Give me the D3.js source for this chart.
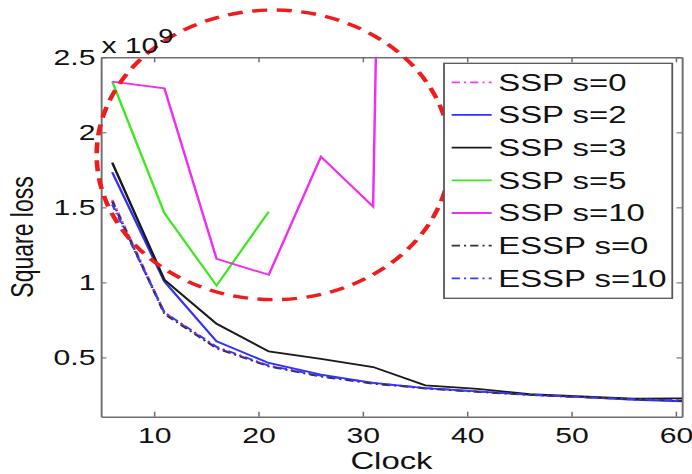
<!DOCTYPE html>
<html>
<head>
<meta charset="utf-8">
<script src="https://cdn.jsdelivr.net/npm/d3@7"></script>
<style>
  body { margin: 0; background: #fff; }
  text { font-family: 'Liberation Sans', Arial, sans-serif; fill: #111; }
</style>
</head>
<body>
<div class="canvas"></div>
<script>
// Loss values are in units of 1e9
const clock = [6, 11, 16, 21, 26, 31, 36, 41, 46, 51, 56, 61]
const sspS0 = [1.55, 0.80, 0.565, 0.445, 0.375, 0.328, 0.295, 0.272, 0.252, 0.236, 0.222, 0.212]
const sspS2 = [1.734, 1.006, 0.607, 0.463, 0.385, 0.33, 0.296, 0.274, 0.25, 0.236, 0.218, 0.207]
const sspS3 = [1.798, 1.017, 0.724, 0.54, 0.49, 0.436, 0.314, 0.29, 0.256, 0.24, 0.225, 0.228]
const sspS5 = [2.338, 1.461, 0.979, 1.472]
const sspS10 = [2.338, 2.293, 1.157, 1.05, 1.838, 1.505, 20.5]
const esspS0 = [1.54, 0.79, 0.56, 0.44, 0.372, 0.325, 0.293, 0.27, 0.25, 0.235, 0.22, 0.21]
const esspS10 = [1.52, 0.80, 0.57, 0.445, 0.378, 0.33, 0.296, 0.273, 0.252, 0.236, 0.222, 0.212]

const seriesNames = ['SSP s=0', 'SSP s=2', 'SSP s=3', 'SSP s=5', 'SSP s=10', 'ESSP s=0', 'ESSP s=10']
const seriesValues = [sspS0, sspS2, sspS3, sspS5, sspS10, esspS0, esspS10]

const xTicks = [10, 20, 30, 40, 50, 60]
const yTicks = [0.5, 1, 1.5, 2, 2.5]

// highlighted region (data units)
const ringCenter = [21.46, 1.85]
const ringRadius = [16.95, 0.965]

const colors = ['#f23cf2', '#3030ff', '#1a1a1a', '#3fe81f', '#f02ef0', '#333333', '#3a3aff']
const dashes = ['6,3,1.5,3', null, null, null, null, '6,3,1.5,3', '6,3,1.5,3']

// The picture is stretched sideways, so draw narrower and let the viewBox stretch it
const stretch = 1.37
const width = 692
const height = 474
const innerW = width / stretch

const svg = d3.select('.canvas')
  .append('svg')
  .attr('width', width)
  .attr('height', height)
  .attr('viewBox', `0 0 ${innerW} ${height}`)
  .attr('preserveAspectRatio', 'none')

svg.append('rect').attr('width', innerW).attr('height', height).attr('fill', '#fff')

const margin = { top: 57.3, right: innerW - 497.8, bottom: height - 416.7, left: 73.7 }
const graphWidth = innerW - margin.left - margin.right
const graphHeight = height - margin.top - margin.bottom

const graph = svg.append('g')
  .attr('transform', `translate(${margin.left}, ${margin.top})`)

// Scales
const x = d3.scaleLinear().domain([4.92, 60.6]).range([0, graphWidth])
const y = d3.scaleLinear().domain([0.105, 2.5]).range([graphHeight, 0])

graph.append('clipPath').attr('id', 'plotClip')
  .append('rect').attr('width', graphWidth).attr('height', graphHeight)

// Axes (box with inward ticks)
const xAxisGroup = graph.append('g').attr('transform', `translate(0, ${graphHeight})`)
  .call(d3.axisBottom(x).tickValues(xTicks).tickSizeInner(-5).tickSizeOuter(0).tickPadding(10.4).tickFormat(d => d))
const yAxisGroup = graph.append('g')
  .call(d3.axisLeft(y).tickValues(yTicks).tickSizeInner(-4).tickSizeOuter(0).tickPadding(4).tickFormat(d => d))
const topAxisGroup = graph.append('g')
  .call(d3.axisTop(x).tickValues(xTicks).tickSizeInner(-5).tickSizeOuter(0).tickFormat(''))
const rightAxisGroup = graph.append('g').attr('transform', `translate(${graphWidth}, 0)`)
  .call(d3.axisRight(y).tickValues(yTicks).tickSizeInner(-4).tickSizeOuter(0).tickFormat(''))

;[xAxisGroup, yAxisGroup, topAxisGroup, rightAxisGroup].forEach(g => {
  g.attr('font-size', null).attr('font-family', null)
  g.select('.domain').attr('stroke', '#6e6e6e').attr('stroke-width', 1.4)
  g.selectAll('.tick line').attr('stroke', '#6e6e6e').attr('stroke-width', 1.1)
  g.selectAll('text').attr('font-size', 22).attr('fill', '#111')
})

// Lines
const line = d3.line()
  .x(d => x(d[0]))
  .y(d => y(d[1]))

const lines = graph.append('g').attr('clip-path', 'url(#plotClip)')
seriesValues.forEach((vals, i) => {
  lines.append('path')
    .datum(vals.map((v, j) => [clock[j], v]))
    .attr('d', line)
    .attr('fill', 'none')
    .attr('stroke', colors[i])
    .attr('stroke-width', 1.8)
    .attr('stroke-dasharray', dashes[i])
})

// Labels
svg.append('text')
  .attr('x', margin.left + graphWidth / 2)
  .attr('y', 469)
  .attr('text-anchor', 'middle')
  .attr('font-size', 24)
  .text('Clock')

svg.append('text')
  .attr('transform', `translate(24, ${margin.top + graphHeight / 2}) rotate(-90)`)
  .attr('text-anchor', 'middle')
  .attr('font-size', 23)
  .text('Square loss')

const expLabel = svg.append('text')
  .attr('x', margin.left + 0.3)
  .attr('y', 53.3)
  .attr('font-size', 22)
expLabel.append('tspan').text('x 10')
expLabel.append('tspan').attr('dy', -10).attr('font-size', 20).text('9')

// Legend
const legend = svg.append('g').attr('transform', 'translate(324.1, 63.3)')
legend.append('rect')
  .attr('width', 166.6)
  .attr('height', 235)
  .attr('fill', '#fff')
  .attr('stroke', '#555')
  .attr('stroke-width', 1.3)

seriesNames.forEach((name, i) => {
  const row = legend.append('g').attr('transform', `translate(0, ${19 + i * 32.67})`)
  row.append('line')
    .attr('x1', 5.6).attr('x2', 34.8)
    .attr('stroke', colors[i])
    .attr('stroke-width', 1.8)
    .attr('stroke-dasharray', dashes[i])
  row.append('text')
    .attr('x', 39.6)
    .attr('y', 8.5)
    .attr('font-size', 24)
    .text(name)
})

// Red dashed ring around the unstable runs
graph.append('ellipse')
  .attr('cx', x(ringCenter[0]))
  .attr('cy', y(ringCenter[1]))
  .attr('rx', x(ringCenter[0] + ringRadius[0]) - x(ringCenter[0]))
  .attr('ry', y(ringCenter[1] - ringRadius[1]) - y(ringCenter[1]))
  .attr('fill', 'none')
  .attr('stroke', '#ee1d1d')
  .attr('stroke-width', 3.4)
  .attr('stroke-dasharray', '11,7')
</script>
</body>
</html>
